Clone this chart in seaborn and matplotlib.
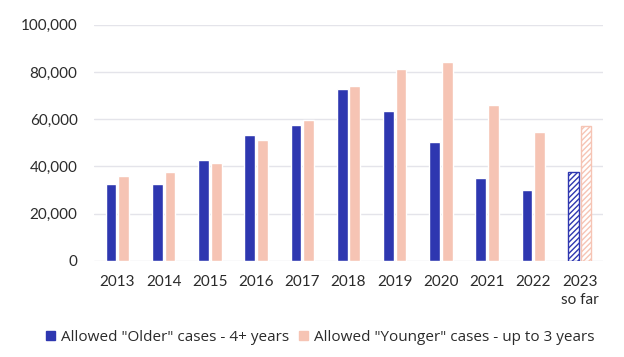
import matplotlib
matplotlib.use("Agg")
import matplotlib.pyplot as plt
import matplotlib.ticker as mticker
from matplotlib.patches import Patch
import seaborn as sns
import pandas as pd

# Data
years = ["2013", "2014", "2015", "2016", "2017", "2018",
         "2019", "2020", "2021", "2022", "2023\nso far"]
older = [32400, 32400, 42900, 53500, 57700, 72900,
         63300, 50300, 35300, 30000, 37700]
younger = [35900, 37600, 41600, 51100, 59800, 74100,
           81400, 84000, 65800, 54400, 57100]
series_names = ['Allowed "Older" cases - 4+ years',
                'Allowed "Younger" cases - up to 3 years']
colors = ["#2e37b0", "#f6c4b4"]

TEXT = "#2b2b2b"


def build_frame():
    rows = []
    for name, vals in zip(series_names, [older, younger]):
        for y, v in zip(years, vals):
            rows.append({"year": y, "series": name, "value": v})
    return pd.DataFrame(rows)


def plot_chart(df):
    sns.set_style("white")
    plt.rcParams["font.family"] = ["Lato", "DejaVu Sans"]

    fig = plt.figure(figsize=(6.24, 3.57), dpi=100)
    ax = fig.add_axes([0.151, 0.269, 0.815, 0.662])

    sns.barplot(data=df, x="year", y="value", hue="series",
                palette=colors, width=0.55, gap=0.15, saturation=1,
                legend=False, ax=ax)

    # last year is partial: draw as hatched outlines
    for cont, col in zip(ax.containers, colors):
        bar = cont.patches[-1]
        bar.set_facecolor("white")
        bar.set_edgecolor(col)
        bar.set_hatch("//////")
        bar.set_linewidth(1.0)

    ax.set_ylim(0, 100000)
    ax.yaxis.set_major_locator(mticker.MultipleLocator(20000))
    ax.yaxis.set_major_formatter(mticker.StrMethodFormatter("{x:,.0f}"))
    ax.grid(axis="y", color="#e4e4ea", linewidth=1)
    ax.set_axisbelow(True)
    sns.despine(ax=ax, left=True, bottom=True)
    ax.tick_params(axis="both", length=0, labelsize=11, colors=TEXT)
    ax.tick_params(axis="y", pad=12)
    ax.tick_params(axis="x", pad=10)
    for lab in ax.get_xticklabels():
        lab.set_linespacing(1.4)
    ax.set_xlabel("")
    ax.set_ylabel("")

    handles = [Patch(facecolor=c, edgecolor=c) for c in colors]
    fig.legend(handles, series_names, loc="center", bbox_to_anchor=(0.513, 0.055),
               ncol=2, frameon=False, handlelength=0.6,
               handleheight=0.6, handletextpad=0.4, columnspacing=0.6,
               labelcolor=TEXT, prop={"family": ["Open Sans", "DejaVu Sans"], "size": 11})

    fig.savefig("out.png", dpi=100)


def main():
    df = build_frame()
    plot_chart(df)


if __name__ == "__main__":
    main()
